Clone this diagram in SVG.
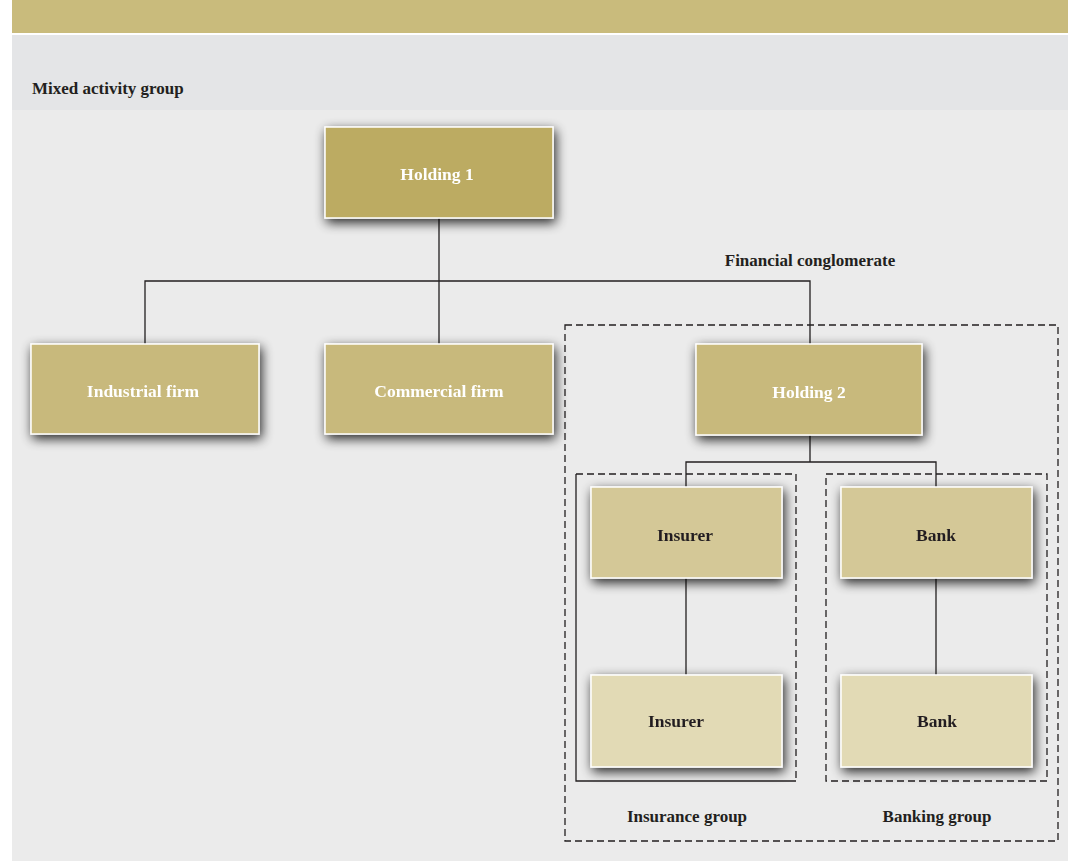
<svg xmlns="http://www.w3.org/2000/svg" width="1068" height="861" viewBox="0 0 1068 861">
<defs>
<filter id="sh" x="-20%" y="-30%" width="140%" height="160%">
<feGaussianBlur in="SourceAlpha" stdDeviation="6"/>
<feOffset dx="2" dy="4" result="b"/>
<feComponentTransfer><feFuncA type="linear" slope="0.85"/></feComponentTransfer>
<feMerge><feMergeNode/><feMergeNode in="SourceGraphic"/></feMerge>
</filter>
</defs>
<style>
.t{font-family:"Liberation Serif","Times New Roman",serif;font-weight:bold;font-size:17.5px;text-anchor:middle}
.w{fill:#ffffff}
.d{fill:#231f20}
.lbl{font-family:"Liberation Serif","Times New Roman",serif;font-weight:bold;font-size:17px;fill:#231f20}
.box{stroke:#ffffff;stroke-width:1.5}
.c1{fill:#bcab62}
.c2{fill:#c8b97b}
.c3{fill:#d4c897}
.c4{fill:#e2dab5}
.ln{stroke:#231f20;stroke-width:1.3;fill:none}
.ds{stroke:#231f20;stroke-width:1.3;fill:none;stroke-dasharray:7 4}
</style>
<rect x="0" y="0" width="1068" height="861" fill="#ffffff"/>
<rect x="12" y="0" width="1056" height="33" fill="#c9bb7c"/>
<rect x="12" y="35" width="1056" height="826" fill="#ebebeb"/>
<rect x="12" y="35" width="1056" height="75" fill="#e4e5e7"/>
<text class="lbl" x="32" y="94">Mixed activity group</text>

<g id="frames">
<rect class="ds" x="565" y="325" width="493" height="516"/>
<text class="lbl" x="810" y="266" text-anchor="middle">Financial conglomerate</text>
<path class="ds" d="M576,474 H796 V781"/>
<path class="ln" d="M576,474 V781 H796"/>
<text class="lbl" x="687" y="822" text-anchor="middle">Insurance group</text>
<rect class="ds" x="826" y="474" width="221" height="307"/>
<text class="lbl" x="937" y="822" text-anchor="middle">Banking group</text>
</g>

<g id="connectors">
<path class="ln" d="M439,218 V281 M145,344 V281 H810 V344 M439,281 V344"/>
<path class="ln" d="M810,435 V462 M686,488 V462 H936 V488"/>
<path class="ln" d="M686,578 V675"/>
<path class="ln" d="M936,578 V675"/>
</g>

<g id="holding1" filter="url(#sh)"><rect class="box c1" x="325" y="127" width="228" height="91"/><text class="t w" x="437" y="180">Holding 1</text></g>
<g id="industrial" filter="url(#sh)"><rect class="box c2" x="31" y="344" width="228" height="90"/><text class="t w" x="143" y="397">Industrial firm</text></g>
<g id="commercial" filter="url(#sh)"><rect class="box c2" x="325" y="344" width="228" height="90"/><text class="t w" x="439" y="397">Commercial firm</text></g>
<g id="holding2" filter="url(#sh)"><rect class="box c2" x="696" y="344" width="226" height="91"/><text class="t w" x="809" y="398">Holding 2</text></g>
<g id="insurer1" filter="url(#sh)"><rect class="box c3" x="591" y="487" width="191" height="91"/><text class="t d" x="685" y="541">Insurer</text></g>
<g id="bank1" filter="url(#sh)"><rect class="box c3" x="841" y="487" width="191" height="91"/><text class="t d" x="936" y="541">Bank</text></g>
<g id="insurer2" filter="url(#sh)"><rect class="box c4" x="591" y="675" width="191" height="92"/><text class="t d" x="676" y="727">Insurer</text></g>
<g id="bank2" filter="url(#sh)"><rect class="box c4" x="841" y="675" width="191" height="92"/><text class="t d" x="937" y="727">Bank</text></g>
</svg>
